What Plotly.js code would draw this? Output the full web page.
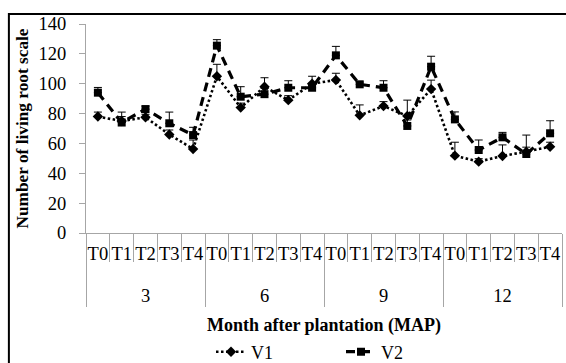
<!DOCTYPE html>
<html>
<head>
<meta charset="utf-8">
<script src="https://cdn.plot.ly/plotly-3.0.1.min.js"></script>
<style>html,body{margin:0;padding:0;background:#fff;}#chart{width:566px;height:363px;}</style>
</head>
<body>
<div id="chart"></div>
<script>
const months = ['3', '6', '9', '12'];
const treatments = ['T0', 'T1', 'T2', 'T3', 'T4'];
const v1 = [78, 75, 77.5, 66, 56.3, 105, 84, 98, 89, 100, 102.5, 78.8, 85, 78.4, 96.4, 51.8, 47.8, 51.6, 54.5, 57.8];
const v1Err = [3, 3, 2, 3, 6, 8, 3, 6, 3, 5, 4.5, 7, 3, 10.6, 6, 9, 2, 7.4, 3, 3];
const v2 = [94, 74, 83, 73.5, 65.6, 125.5, 91.3, 93, 97.3, 97.3, 119, 99.6, 97.3, 71.7, 111.4, 76.1, 55.6, 64.1, 52.9, 66.8];
const v2Err = [3.5, 7, 2, 7.5, 5.2, 4, 6.7, 4, 4.7, 3, 6, 1.5, 4.7, 4, 7, 5, 6.7, 3.3, 12.7, 8.4];
const yTicks = [0, 20, 40, 60, 80, 100, 120, 140];

// multicategory x: [month, treatment]; the blank second line only spaces the month row lower
const xGroup = [], xSub = [];
months.forEach(m => treatments.forEach(t => { xGroup.push(m); xSub.push(t + '<br>\u00a0'); }));

const FONT = '"Liberation Serif", "Times New Roman", serif';

const traces = [
  {
    name: 'V1', type: 'scatter', mode: 'lines+markers',
    x: [xGroup, xSub], y: v1,
    line: {color: '#000', width: 2.6, dash: '2.5px,2.5px'},
    marker: {symbol: 'diamond', size: 8, color: '#000'},
    error_y: {type: 'data', array: v1Err, arrayminus: v1Err.map(() => 0), symmetric: false, color: '#000', thickness: 1, width: 4}
  },
  {
    name: 'V2', type: 'scatter', mode: 'lines+markers',
    x: [xGroup, xSub], y: v2,
    line: {color: '#000', width: 3.2, dash: '9px,6px'},
    marker: {symbol: 'square', size: 8, color: '#000'},
    error_y: {type: 'data', array: v2Err, arrayminus: v2Err.map(() => 0), symmetric: false, color: '#000', thickness: 1, width: 4}
  }
];

const layout = {
  width: 566, height: 363,
  margin: {l: 86, r: 4, t: 24, b: 130, autoexpand: false},
  paper_bgcolor: '#fff', plot_bgcolor: '#fff',
  font: {family: FONT, size: 18, color: '#000'},
  showlegend: true,
  legend: {orientation: 'h', x: (211 - 86) / 476, xanchor: 'left', y: (233 - 352) / 209, yanchor: 'middle', font: {family: FONT, size: 18}, entrywidth: 85, entrywidthmode: 'pixels', tracegroupgap: 0},
  xaxis: {
    type: 'multicategory', automargin: false, tickangle: 0, range: [-0.5, 19.5], autorange: false,
    showline: true, linecolor: '#a6a6a6', linewidth: 1,
    ticks: 'outside', tickson: 'boundaries', ticklen: 28, tickcolor: '#a6a6a6',
    ticklabelstandoff: 4,
    dividercolor: '#a6a6a6', dividerwidth: 1,
    showgrid: false, zeroline: false,
    tickfont: {family: FONT, size: 18.5, color: '#000'},
    title: {text: '<b>Month after plantation (MAP)</b>', font: {family: FONT, size: 18, color: '#000'}, standoff: 13}
  },
  yaxis: {
    range: [0, 140], tickvals: yTicks, ticktext: yTicks.map(String), automargin: false,
    showline: true, linecolor: '#a6a6a6', linewidth: 1,
    ticks: 'outside', ticklen: 6, tickcolor: '#a6a6a6',
    ticklabelstandoff: 9,
    showgrid: false, zeroline: false,
    tickfont: {family: FONT, size: 18.5, color: '#000'},
    title: {text: '<b>Number of living root scale</b>', font: {family: FONT, size: 17.3, color: '#000'}, standoff: 5}
  },
  shapes: [{
    type: 'rect', xref: 'paper', yref: 'paper',
    x0: -0.162, x1: 1.03, y0: -0.8, y1: 1.048,
    line: {color: '#000', width: 2}, fillcolor: 'rgba(0,0,0,0)', layer: 'above'
  }]
};

Plotly.newPlot('chart', traces, layout, {displayModeBar: false, staticPlot: true});
</script>
</body>
</html>
